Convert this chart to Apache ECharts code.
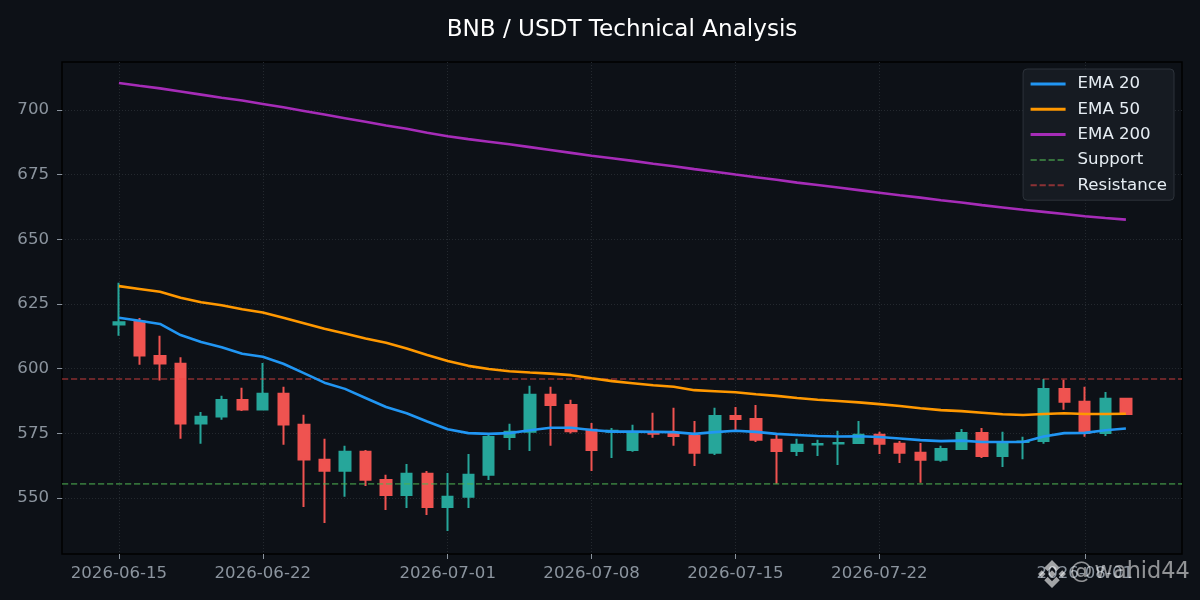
<!DOCTYPE html>
<html>
<head>
<meta charset="utf-8">
<style>html,body{margin:0;padding:0;background:#0d1117}#c{width:1200px;height:600px}</style>
<script src="https://cdn.jsdelivr.net/npm/echarts@6/dist/echarts.min.js"></script>
</head>
<body>
<div id="c"></div>
<script>
const dates = ['2026-06-15','2026-06-16','2026-06-17','2026-06-18','2026-06-19','2026-06-20','2026-06-21','2026-06-22','2026-06-23','2026-06-24',
'2026-06-25','2026-06-26','2026-06-27','2026-06-28','2026-06-29','2026-06-30','2026-07-01','2026-07-02','2026-07-03','2026-07-04',
'2026-07-05','2026-07-06','2026-07-07','2026-07-08','2026-07-09','2026-07-10','2026-07-11','2026-07-12','2026-07-13','2026-07-14',
'2026-07-15','2026-07-16','2026-07-17','2026-07-18','2026-07-19','2026-07-20','2026-07-21','2026-07-22','2026-07-23','2026-07-24',
'2026-07-25','2026-07-26','2026-07-27','2026-07-28','2026-07-29','2026-07-30','2026-07-31','2026-08-01','2026-08-02','2026-08-03'];
const open = [617.1,618.2,604.9,601.9,578.8,581.5,587.9,584.2,590.3,578.3,564.8,560.6,567.9,557,551.2,559.4,546.6,550.5,559,573.6,575.6,589.9,586,576.4,575.6,568.6,575.5,575,574,567.5,581.7,580.6,572.5,568.2,570.7,571.1,571.3,574.5,571,567.5,564.8,569,575.2,566.3,571.7,572.1,592.2,587.2,575.2,588.4];
const close = [617.9,605.1,602,578.8,581.4,587.9,584.2,590.3,578.4,564.9,560.6,567.9,557.1,551.2,559.4,546.6,550.5,559,573.6,575.6,589.9,586,575.8,568.6,576,575.2,574.9,574,567.5,581.7,580.6,572.5,568.2,570.6,570.9,571.3,574.5,571,567.5,564.8,569,575.2,566.3,571.7,571.9,592.2,587.2,575.2,588.4,582.5];
const low = [612.7,601.5,595.4,572.9,571,580.3,583.7,584.2,570.6,546.6,540.4,550.5,554.7,545.4,546.2,543.5,537.3,546.2,557,568.6,568.2,570.2,575,560.5,565.5,567.9,573.3,570.2,562.4,566.7,575.6,571.7,555.5,566.3,566.3,562.8,571,567,563.6,555.9,564,569,565.5,562,565,571,584.1,573.7,574,582.5];
const high = [633.2,619.6,612.7,604.4,583.3,589.5,592.6,602.2,593,582.2,572.9,570.2,568.6,559,563.2,560.5,559.7,567,575,578.7,593.4,593,588,579,577.1,578.3,583,584.9,579.8,584.9,585.2,586,574.4,572.9,572.5,576,579.8,575.6,572.1,571.3,570.2,576.7,577.1,575.6,573.7,596,595.7,593,591,588.8];
const ema20 = [619.7,618.5,617.3,613,610.3,608.3,605.8,604.6,601.9,598.3,594.6,592.2,588.7,585.2,582.8,579.6,576.6,575.1,574.8,575.1,576.2,577.2,577.2,576.3,575.7,575.7,575.6,575.5,574.8,575.5,576,575.6,574.8,574.4,574,573.8,573.9,573.6,573,572.4,572,572.2,571.7,571.7,571.7,573.8,575.1,575.2,576.2,576.9];
const ema50 = [631.9,630.8,629.7,627.4,625.7,624.5,623,621.7,619.7,617.6,615.4,613.6,611.7,610,607.8,605.3,603,601.1,599.9,599,598.5,598.1,597.5,596.3,595.2,594.4,593.6,593,591.7,591.3,590.9,590.1,589.5,588.7,588,587.5,587,586.3,585.6,584.7,584,583.6,583,582.4,582.1,582.5,582.8,582.5,582.5,582.6];
const ema200 = [710.4,709.3,708.3,707.1,705.9,704.7,703.6,702.3,701,699.6,698.2,696.8,695.4,694,692.7,691.2,689.8,688.7,687.7,686.7,685.6,684.5,683.4,682.3,681.3,680.3,679.2,678.2,677.1,676.1,675,674,673,671.9,671,670,669,668,667,666.1,665.1,664.2,663.2,662.3,661.4,660.6,659.8,658.9,658.2,657.6];
const supportLevel = 555.5;
const resistanceLevel = 596;
const yTicks = [550,575,600,625,650,675,700];
const xTickDates = ['2026-06-15','2026-06-22','2026-07-01','2026-07-08','2026-07-15','2026-07-22','2026-08-01'];

const xMin = -2.77;
const xMax = 51.73;
const xTicks = xTickDates.map(d => dates.indexOf(d));
const fontFamily = '"DejaVu Sans", sans-serif';
const tickCol = '#8b949e';
const gridLine = { show: true, lineStyle: { color: '#24292f', type: [1, 2], width: 1 } };
const lineSeries = (name, vals, color, width, z) => ({
  name, type: 'line', z, showSymbol: false, symbol: 'none', smooth: false, silent: true,
  data: dates.map((d, i) => [i, vals[i]]),
  lineStyle: { color, width }, itemStyle: { color }
});
const levelSeries = (name, level, color) => ({
  name, type: 'line', z: 3, showSymbol: false, symbol: 'none', silent: true,
  data: [[xMin, level], [xMax, level]],
  lineStyle: { color, width: 1.6, type: [6.2, 2.8] }, itemStyle: { color }
});
const logoPart = pts => ({
  type: 'polygon', z: 100,
  shape: { points: pts.map(p => [1036.5 + 0.31 * p[0], 558.5 + 0.31 * p[1]]) },
  style: { fill: 'rgba(255,255,255,0.62)' }
});

const chart = echarts.init(document.getElementById('c'), null, { renderer: 'canvas' });
chart.setOption({
  animation: false,
  backgroundColor: '#0d1117',
  textStyle: { fontFamily },
  title: {
    text: 'BNB / USDT Technical Analysis', left: 617, top: 13, textAlign: 'center',
    textStyle: { color: '#ffffff', fontSize: 23.1, fontWeight: 'normal', fontFamily }
  },
  grid: { left: 62, right: 18, top: 62, bottom: 46, show: true, backgroundColor: '#0d1117', borderColor: '#000000', borderWidth: 1.5 },
  xAxis: {
    type: 'value', min: xMin, max: xMax, scale: true,
    axisLine: { show: false, onZero: false },
    axisTick: { show: true, length: 5, lineStyle: { color: tickCol, width: 1 }, customValues: xTicks },
    axisLabel: { color: tickCol, fontSize: 16.6, fontFamily, margin: 11, hideOverlap: false,
      customValues: xTicks, formatter: v => dates[v] },
    splitLine: gridLine
  },
  yAxis: {
    type: 'value', min: 528.4, max: 718.5, scale: true,
    axisLine: { show: false, onZero: false },
    axisTick: { show: true, length: 5, lineStyle: { color: tickCol, width: 1 }, customValues: yTicks },
    axisLabel: { color: tickCol, fontSize: 16.6, fontFamily, margin: 13, padding: [5, 0, 0, 0], customValues: yTicks },
    splitLine: gridLine
  },
  legend: {
    orient: 'vertical', right: 26, top: 69, padding: [6.5, 7, 6.5, 6], itemWidth: 35, itemHeight: 14, itemGap: 8.3, align: 'left',
    backgroundColor: '#161b22', borderColor: '#2d333b', borderWidth: 1, borderRadius: 4,
    selectedMode: false,
    itemStyle: { color: 'rgba(0,0,0,0)', borderWidth: 0 },
    textStyle: { color: '#e6edf3', fontSize: 16.6, fontFamily, padding: [0, 0, 0, 7] },
    data: [
      { name: 'EMA 20', lineStyle: { width: 3 } },
      { name: 'EMA 50', lineStyle: { width: 3 } },
      { name: 'EMA 200', lineStyle: { width: 3 } },
      { name: 'Support' },
      { name: 'Resistance' }
    ]
  },
  series: [
    {
      name: 'BNB', type: 'candlestick', z: 2, silent: true, barWidth: 10.8,
      data: dates.map((d, i) => [i, open[i], close[i], low[i], high[i]]),
      itemStyle: { color: '#26a69a', color0: '#ef5350', borderColor: '#26a69a', borderColor0: '#ef5350', borderWidth: 2 }
    },
    levelSeries('Support', supportLevel, 'rgba(76,175,80,0.6)'),
    levelSeries('Resistance', resistanceLevel, 'rgba(239,70,70,0.55)'),
    lineSeries('EMA 20', ema20, '#2196f3', 2.6, 5),
    lineSeries('EMA 50', ema50, '#ff9800', 2.6, 5),
    lineSeries('EMA 200', ema200, '#a62cb8', 2.6, 5)
  ],
  graphic: [
    logoPart([[50,5],[75,30],[64,41],[50,27],[36,41],[25,30]]),
    logoPart([[50,95],[25,70],[36,59],[50,73],[64,59],[75,70]]),
    logoPart([[5,50],[17,38],[29,50],[17,62]]),
    logoPart([[95,50],[83,38],[71,50],[83,62]]),
    logoPart([[50,38],[62,50],[50,62],[38,50]]),
    { type: 'text', z: 100, left: 1070, top: 561, style: { text: '@\u200Awahid44', fill: 'rgba(255,255,255,0.55)', font: '22.4px "DejaVu Sans", sans-serif' } }
  ]
});
</script>
</body>
</html>
